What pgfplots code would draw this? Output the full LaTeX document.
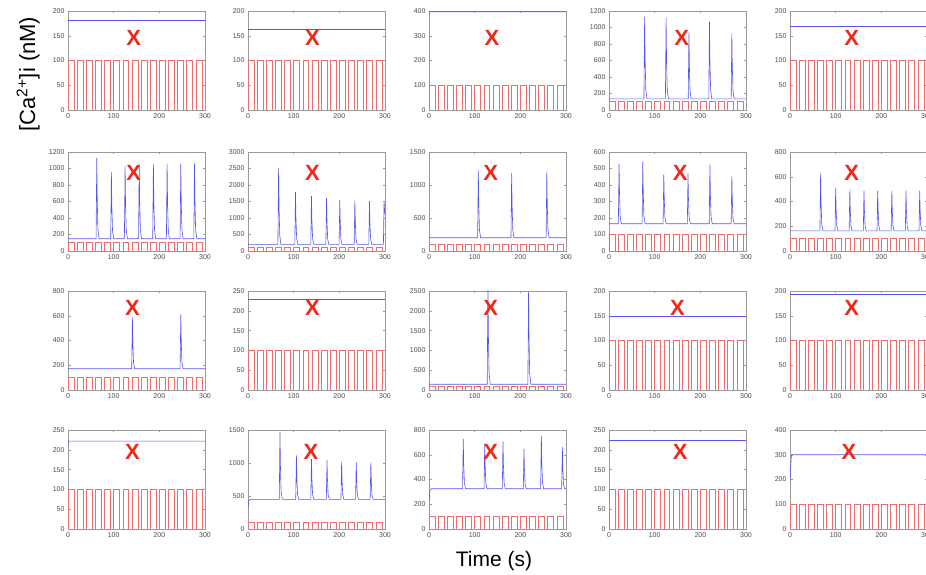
\documentclass[border=0pt]{standalone}
\usepackage{fontspec}
\setmainfont{Liberation Sans}
\usepackage{pgfplots}
\pgfplotsset{compat=1.18}
\usepackage{pgfplotstable}
\definecolor{cablue}{RGB}{85,85,235}
\definecolor{stimred}{RGB}{238,110,110}
\definecolor{xred}{RGB}{240,40,25}

% stimulus pulse train, same in every panel
\pgfplotstableread{
t v
0 0
0 100
13 100
13 0
20 0
20 100
33 100
33 0
40 0
40 100
53 100
53 0
60 0
60 100
73 100
73 0
80 0
80 100
93 100
93 0
100 0
100 100
113 100
113 0
120 0
120 100
133 100
133 0
140 0
140 100
153 100
153 0
160 0
160 100
173 100
173 0
180 0
180 100
193 100
193 0
200 0
200 100
213 100
213 0
220 0
220 100
233 100
233 0
240 0
240 100
253 100
253 0
260 0
260 100
273 100
273 0
280 0
280 100
293 100
293 0
300 0
300 50
}\sqwave

\pgfplotsset{
  panel/.style={
    scale only axis, width=137pt, height=99pt, anchor=south west,
    xmin=0, xmax=300, ymin=0, xtick={0,100,200,300},
    scaled y ticks=false,
    tick align=inside, major tick length=2.5pt,
    axis line style={black!40, line width=0.5pt},
    tick style={black!40, line width=0.4pt},
    tick label style={font=\fontsize{7}{8}\selectfont, text=black!70},
    /pgf/number format/assume math mode=true,
    /pgf/number format/1000 sep={},
  },
  catrace/.style={color=cablue, line width=0.6pt},
  wave/.style={color=stimred, line width=0.5pt},
}

% #1 x, #2 y, #3 ymax, #4 tick step, #5 X rel x, #6 X rel y, #7 coords
\newcommand{\panel}[7]{%
  \begin{axis}[panel, at={(#1pt,#2pt)}, ymax=#3, ytick={0,#4,...,#3}]
    \addplot[wave] table {\sqwave};
    \addplot[catrace] coordinates {#7};
    \node[text=xred, font=\fontsize{22}{22}\selectfont\bfseries] at (rel axis cs:#5,#6) {X};
  \end{axis}}

\begin{document}
\begin{tikzpicture}
\path[use as bounding box] (0pt,0pt) rectangle (926pt,575pt);
\clip (0pt,0pt) rectangle (926pt,575pt);

% row 1
\panel{68}{465}{200}{50}{0.48}{0.73}{(0,182)(300,182)}
\panel{248}{465}{200}{50}{0.47}{0.73}{(0,163)(300,163)}
\panel{429}{465}{400}{100}{0.46}{0.73}{(0,385)(1,397)(300,397)}
\panel{609}{465}{1200}{200}{0.53}{0.73}{(0,135)
  (76.5,135)(78,1128)(79,632)(80.5,254)(83,135)
  (123.5,135)(125,1112)(126,624)(127.5,252)(130,135)
  (173.5,135)(175,940)(176,538)(177.5,232)(180,135)
  (218.5,135)(220,1072)(221,604)(222.5,247)(225,135)
  (267.5,135)(269,928)(270,532)(271.5,230)(274,135)(300,135)}
\panel{790}{465}{200}{50}{0.45}{0.73}{(0,170)(300,170)}

% row 2
\panel{68}{324}{1200}{200}{0.48}{0.79}{(0,148)
  (61.5,148)(63,1128)(64,638)(65.5,266)(68,148)
  (93.5,148)(95,956)(96,552)(97.5,245)(100,148)
  (123.5,148)(125,1028)(126,588)(127.5,254)(130,148)
  (154.5,148)(156,1040)(157,594)(158.5,255)(161,148)
  (185.5,148)(187,1056)(188,602)(189.5,257)(192,148)
  (215.5,148)(217,1060)(218,604)(219.5,257)(222,148)
  (245.5,148)(247,1060)(248,604)(249.5,257)(252,148)
  (275.5,148)(277,1060)(278,604)(279.5,257)(282,148)(300,148)}
\panel{248}{324}{3000}{500}{0.47}{0.79}{(0,200)
  (65.5,200)(67,2520)(68,1360)(69.5,478)(72,200)
  (102.5,200)(104,1780)(105,990)(106.5,390)(109,200)
  (137.5,200)(139,1660)(140,930)(141.5,375)(144,200)
  (170.5,200)(172,1600)(173,900)(174.5,368)(177,200)
  (199.5,200)(201,1550)(202,875)(203.5,362)(206,200)
  (232.5,200)(234,1530)(235,865)(236.5,360)(239,200)
  (264.5,200)(266,1510)(267,855)(268.5,357)(271,200)
  (296.5,200)(298,1490)(299,1250)(300,1100)}
\panel{429}{324}{1500}{500}{0.45}{0.79}{(0,200)
  (106.5,200)(108,1220)(109,710)(110.5,322)(113,200)
  (179.5,200)(181,1180)(182,690)(183.5,318)(186,200)
  (256.5,200)(258,1200)(259,700)(260.5,320)(263,200)(300,200)}
\panel{609}{324}{600}{100}{0.52}{0.79}{(0,165)
  (20.5,165)(22,530)(23,348)(24.5,209)(27,165)
  (72.5,165)(74,540)(75,353)(76.5,210)(79,165)
  (118.5,165)(120,465)(121,315)(122.5,201)(125,165)
  (171.5,165)(173,470)(174,318)(175.5,202)(178,165)
  (219.5,165)(221,525)(222,345)(223.5,208)(226,165)
  (267.5,165)(269,455)(270,310)(271.5,200)(274,165)(300,165)}
\panel{790}{324}{800}{200}{0.45}{0.79}{(0,162)
  (65.5,162)(67,628)(68,395)(69.5,218)(72,162)
  (98.5,162)(100,509)(101,336)(102.5,204)(105,162)
  (129.5,162)(131,493)(132,328)(133.5,202)(136,162)
  (160.5,162)(162,488)(163,325)(164.5,201)(167,162)
  (190.5,162)(192,488)(193,325)(194.5,201)(197,162)
  (221.5,162)(223,488)(224,325)(225.5,201)(228,162)
  (252.5,162)(254,488)(255,325)(256.5,201)(259,162)
  (282.5,162)(284,488)(285,325)(286.5,201)(289,162)(300,162)}

% row 3
\panel{68}{185}{800}{200}{0.47}{0.83}{(0,172)
  (139.5,172)(141,590)(142,381)(143.5,222)(146,172)
  (245.5,172)(247,612)(248,392)(249.5,225)(252,172)(300,172)}
\panel{248}{185}{250}{50}{0.47}{0.83}{(0,228)(300,228)}
\panel{429}{185}{2500}{500}{0.45}{0.83}{(0,145)
  (127.5,145)(129,2700)(130,1420)(131.5,452)(134,145)
  (216.5,145)(218,2480)(219,1310)(220.5,425)(223,145)(300,145)}
\panel{609}{185}{200}{50}{0.50}{0.83}{(0,149)(300,149)}
\panel{790}{185}{200}{50}{0.45}{0.83}{(0,194)(300,194)}

% row 4
\panel{68}{46}{250}{50}{0.47}{0.78}{(0,210)(1,222)(300,222)}
\panel{248}{46}{1500}{500}{0.46}{0.78}{(0,330)(2,430)(5,448)
  (68.5,448)(70,1470)(71,959)(72.5,571)(75,448)
  (104.5,448)(106,1117)(107,783)(108.5,528)(111,448)
  (137.5,448)(139,1057)(140,752)(141.5,521)(144,448)
  (171.5,448)(173,1042)(174,745)(175.5,519)(178,448)
  (203.5,448)(205,1017)(206,733)(207.5,516)(210,448)
  (235.5,448)(237,1017)(238,733)(239.5,516)(242,448)
  (267.5,448)(269,1006)(270,727)(271.5,515)(274,448)(300,448)}
\panel{429}{46}{800}{200}{0.45}{0.78}{(0,220)(2,310)(5,325)
  (73.5,325)(75,728)(76,527)(77.5,373)(80,325)
  (120.5,325)(122,688)(123,507)(124.5,369)(127,325)
  (160.5,325)(162,709)(163,517)(164.5,371)(167,325)
  (206.5,325)(208,648)(209,487)(210.5,364)(213,325)
  (244.5,325)(246,755)(247,540)(248.5,377)(251,325)
  (290.5,325)(292,661)(293,493)(294.5,365)(297,325)(300,325)}
\panel{609}{46}{250}{50}{0.52}{0.78}{(0,224)(300,224)}
\panel{790}{46}{400}{100}{0.43}{0.78}{(0,200)(3,300)(300,300)}

\node[rotate=90, anchor=base, font=\fontsize{22}{22}\selectfont] at (35pt,501pt) {[Ca\textsuperscript{2+}]i (nM)};
\node[anchor=base, font=\fontsize{21}{21}\selectfont] at (494pt,8pt) {Time (s)};
\end{tikzpicture}
\end{document}
